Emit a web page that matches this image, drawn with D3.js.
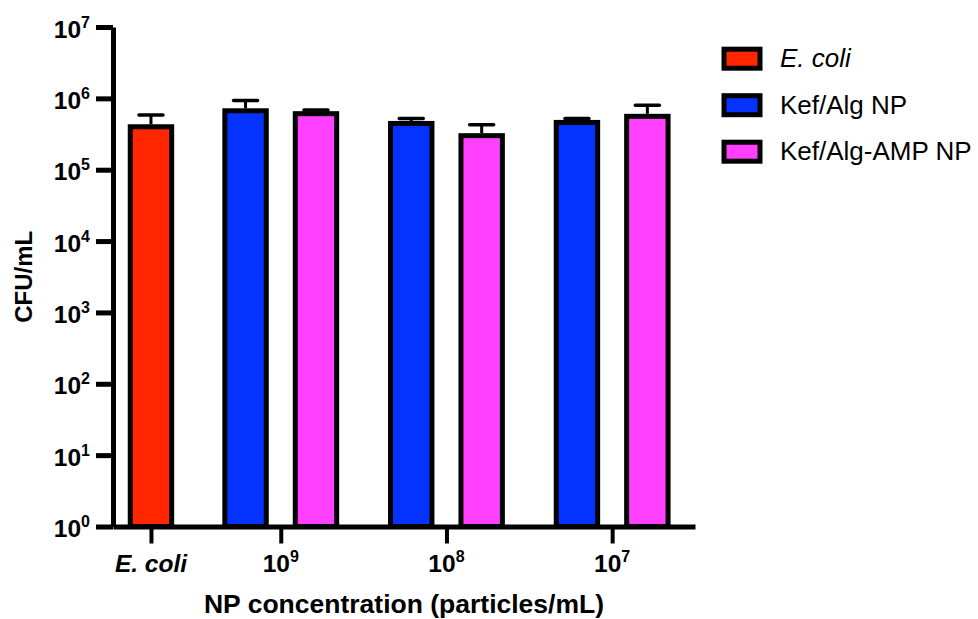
<!DOCTYPE html>
<html>
<head>
<meta charset="utf-8">
<script src="https://cdn.jsdelivr.net/npm/d3@7"></script>
<style>
	body { margin: 0; background: #fff; }
	text { font-family: "Liberation Sans", Arial, sans-serif; fill: #000; }
</style>
</head>
<body>
<div id="chart"></div>
<script>
// data
var groups = ["E. coli", "9", "8", "7"];          // x tick labels (exponents for 10^n)
var seriesNames = ["E. coli", "Kef/Alg NP", "Kef/Alg-AMP NP"];
var seriesColors = ["#FF2600", "#0433FF", "#FF40FF"];
var ecoliMean = [4.0e5];
var ecoliErr = [1.85e5];
var kefAlgMean = [6.7e5, 4.45e5, 4.6e5];
var kefAlgErr = [2.6e5, 0.78e5, 0.63e5];
var kefAmpMean = [6.1e5, 3.0e5, 5.6e5];
var kefAmpErr = [0.75e5, 1.25e5, 2.4e5];
var yTickExp = [0, 1, 2, 3, 4, 5, 6, 7];

makePlot();

function makePlot() {

	var width = 978, height = 619;
	var left = 113, right = 695, top = 27, bottom = 526.5;

	// group centre in slot units (first group is single bar)
	function groupCenter(g) {
		return g === 0 ? 0 : 1.88 + (g - 1) * 2.4;
	}

	// build bar list
	var bars = [];
	bars.push({ s: 0, u: groupCenter(0), v: ecoliMean[0], e: ecoliErr[0] });
	for (var i = 0; i < kefAlgMean.length; i++) {
		bars.push({ s: 1, u: groupCenter(i + 1) - 0.51, v: kefAlgMean[i], e: kefAlgErr[i] });
		bars.push({ s: 2, u: groupCenter(i + 1) + 0.51, v: kefAmpMean[i], e: kefAmpErr[i] });
	}

	var x = d3.scaleLinear()
		.domain([-0.55, 7.88])
		.range([left, right]);

	var y = d3.scaleLog()
		.domain([1, 1e7])
		.range([bottom, top]);

	var svg = d3.select("#chart")
		.append("svg")
		.attr("width", width)
		.attr("height", height);

	var barW = x(0.6) - x(0);

	// bars
	svg.selectAll("rect.bar")
		.data(bars)
		.enter()
		.append("rect")
		.attr("class", "bar")
		.attr("x", function(d) { return x(d.u) - barW / 2; })
		.attr("y", function(d) { return y(d.v); })
		.attr("width", barW)
		.attr("height", function(d) { return y(1) - y(d.v); })
		.attr("fill", function(d) { return seriesColors[d.s]; })
		.attr("stroke", "#000")
		.attr("stroke-width", 5);

	// error bars (upper only)
	svg.selectAll("line.err")
		.data(bars)
		.enter()
		.append("line")
		.attr("x1", function(d) { return x(d.u); })
		.attr("x2", function(d) { return x(d.u); })
		.attr("y1", function(d) { return y(d.v) - 2.5; })
		.attr("y2", function(d) { return y(d.v + d.e); })
		.attr("stroke", "#000")
		.attr("stroke-width", 3);

	svg.selectAll("line.cap")
		.data(bars)
		.enter()
		.append("line")
		.attr("x1", function(d) { return x(d.u) - 12; })
		.attr("x2", function(d) { return x(d.u) + 12; })
		.attr("y1", function(d) { return y(d.v + d.e); })
		.attr("y2", function(d) { return y(d.v + d.e); })
		.attr("stroke", "#000")
		.attr("stroke-width", 3.5)
		.attr("stroke-linecap", "round");

	// x axis
	var xAxis = d3.axisBottom(x)
		.tickValues(groups.map(function(g, i) { return groupCenter(i); }))
		.tickSize(17)
		.tickSizeOuter(0)
		.tickFormat("");

	var gx = svg.append("g")
		.attr("transform", "translate(0," + bottom + ")")
		.call(xAxis);
	gx.select(".domain").attr("stroke-width", 5);
	gx.selectAll(".tick line").attr("stroke-width", 4);

	groups.forEach(function(g, i) {
		var t = svg.append("text")
			.attr("x", x(groupCenter(i)))
			.attr("y", 571.5)
			.attr("text-anchor", "middle")
			.style("font-weight", "bold")
			.style("font-size", "24.5px");
		if (i === 0) {
			t.style("font-style", "italic").text(g);
		} else {
			t.append("tspan").text("10");
			t.append("tspan").attr("dy", -10).style("font-size", "16px").text(g);
		}
	});

	// y axis
	var yAxis = d3.axisLeft(y)
		.tickValues(yTickExp.map(function(p) { return Math.pow(10, p); }))
		.tickSize(17)
		.tickSizeOuter(0)
		.tickFormat("");

	var gy = svg.append("g")
		.attr("transform", "translate(" + left + ",0)")
		.call(yAxis);
	gy.select(".domain").attr("stroke-width", 5);
	gy.selectAll(".tick line").attr("stroke-width", 5);

	yTickExp.forEach(function(p) {
		var t = svg.append("text")
			.attr("x", left - 23)
			.attr("y", y(Math.pow(10, p)) + 10.5)
			.attr("text-anchor", "end")
			.style("font-weight", "bold")
			.style("font-size", "24.5px");
		t.append("tspan").text("10");
		t.append("tspan").attr("dy", -10).style("font-size", "16px").text(p);
	});

	// axis titles
	svg.append("text")
		.attr("x", 404)
		.attr("y", 613)
		.attr("text-anchor", "middle")
		.style("font-weight", "bold")
		.style("font-size", "26.5px")
		.text("NP concentration (particles/mL)");

	svg.append("text")
		.attr("transform", "translate(32," + ((top + bottom) / 2) + ") rotate(-90)")
		.attr("text-anchor", "middle")
		.style("font-weight", "bold")
		.style("font-size", "24px")
		.text("CFU/mL");

	// legend
	var legend = svg.selectAll("g.legend")
		.data(seriesNames)
		.enter()
		.append("g")
		.attr("class", "legend")
		.attr("transform", function(d, i) { return "translate(724," + (58.7 + i * 46.5) + ")"; });

	legend.append("rect")
		.attr("x", 0)
		.attr("y", -9.5)
		.attr("width", 36)
		.attr("height", 19)
		.attr("fill", function(d, i) { return seriesColors[i]; })
		.attr("stroke", "#000")
		.attr("stroke-width", 5);

	legend.append("text")
		.attr("x", 56)
		.attr("y", 8.5)
		.style("font-size", "26px")
		.style("font-style", function(d, i) { return i === 0 ? "italic" : "normal"; })
		.text(function(d) { return d; });
}
</script>
</body>
</html>
